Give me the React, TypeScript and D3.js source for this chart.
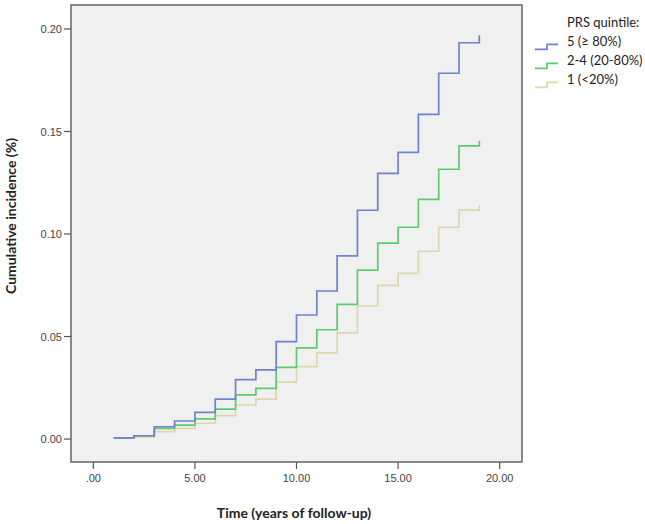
import React from "react";
import * as d3 from "d3";

const years = [1, 2, 3, 4, 5, 6, 7, 8, 9, 10, 11, 12, 13, 14, 15, 16, 17, 18, 19];
const q5 = [0.0006, 0.0016, 0.006, 0.0088, 0.013, 0.0195, 0.029, 0.0337, 0.0475, 0.0605, 0.0722, 0.0893, 0.1116, 0.1296, 0.1398, 0.1584, 0.1784, 0.1933, 0.197];
const q24 = [0.0006, 0.0015, 0.0052, 0.0068, 0.0098, 0.0146, 0.0215, 0.0247, 0.035, 0.0445, 0.0533, 0.0657, 0.0824, 0.0956, 0.1033, 0.1169, 0.1316, 0.143, 0.1455];
const q1 = [0.0006, 0.001, 0.0036, 0.0052, 0.0077, 0.0114, 0.0166, 0.0195, 0.0278, 0.0353, 0.042, 0.0518, 0.0649, 0.0749, 0.0808, 0.0916, 0.1033, 0.1117, 0.114];

const xTicks = [0, 5, 10, 15, 20];
const xTickLabels = [".00", "5.00", "10.00", "15.00", "20.00"];
const yTicks = [0, 0.05, 0.1, 0.15, 0.2];
const yTickLabels = ["0.00", "0.05", "0.10", "0.15", "0.20"];

const seriesNames = ["5 (≥ 80%)", "2-4 (20-80%)", "1 (<20%)"];
const seriesColors = ["#6f82cc", "#5ccb6d", "#ddd7aa"];
const seriesValues = [q5, q24, q1];

const legendTitle = "PRS quintile:";
const xTitle = "Time (years of follow-up)";
const yTitle = "Cumulative incidence (%)";

export default function App() {
  const W = 645, H = 524;
  const left = 71, right = 522, top = 5, bottom = 462;
  const x = d3.scaleLinear().domain([-1.1, 21.1]).range([left, right]);
  const y = d3.scaleLinear().domain([-0.0112, 0.2117]).range([bottom, top]);
  const line = d3
    .line<[number, number]>()
    .x((d) => x(d[0]))
    .y((d) => y(d[1]))
    .curve(d3.curveStepAfter);

  const order = [2, 1, 0];
  const tickFont = "'Liberation Sans', Arial, sans-serif";
  const titleFont = "Lato, 'Open Sans', sans-serif";

  return (
    <svg width={W} height={H} style={{ position: "absolute", left: 0, top: 0, background: "#fff" }}>
      <rect x={left} y={top} width={right - left} height={bottom - top} fill="#f0f0f0" stroke="#5a5a5a" strokeWidth={1.4} />
      {order.map((i) => (
        <path
          key={i}
          d={line(years.map((yr, j) => [yr, seriesValues[i][j]] as [number, number])) || ""}
          fill="none"
          stroke={seriesColors[i]}
          strokeWidth={1.7}
        />
      ))}
      {xTicks.map((t, i) => (
        <g key={t}>
          <line x1={x(t)} x2={x(t)} y1={bottom} y2={bottom + 7} stroke="#555" strokeWidth={1.2} />
          <text x={x(t)} y={482} textAnchor="middle" fontFamily={tickFont} fontSize={11} fill="#444">
            {xTickLabels[i]}
          </text>
        </g>
      ))}
      {yTicks.map((t, i) => (
        <g key={t}>
          <line x1={left - 7} x2={left} y1={y(t)} y2={y(t)} stroke="#555" strokeWidth={1.2} />
          <text x={62} y={y(t) + 4} textAnchor="end" fontFamily={tickFont} fontSize={11} fill="#444">
            {yTickLabels[i]}
          </text>
        </g>
      ))}
      <text x={294} y={518} textAnchor="middle" fontFamily={titleFont} fontWeight="bold" fontSize={14} fill="#222">
        {xTitle}
      </text>
      <text
        transform={`translate(16, 216) rotate(-90)`}
        textAnchor="middle"
        fontFamily={titleFont}
        fontWeight="bold"
        fontSize={14}
        fill="#222"
      >
        {yTitle}
      </text>
      <text x={567} y={27} fontFamily={titleFont} fontSize={13} fill="#222">
        {legendTitle}
      </text>
      {seriesNames.map((n, i) => {
        const by = 46 + i * 19;
        return (
          <g key={n}>
            <path
              d={`M535,${by + 3.3}H547V${by - 1.7}H558`}
              fill="none"
              stroke={seriesColors[i]}
              strokeWidth={1.7}
            />
            <text x={567} y={by} fontFamily={titleFont} fontSize={13} fill="#222">
              {n}
            </text>
          </g>
        );
      })}
    </svg>
  );
}
